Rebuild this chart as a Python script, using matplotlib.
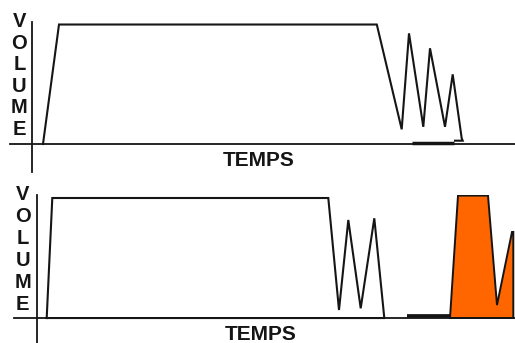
import matplotlib
matplotlib.use("Agg")
import matplotlib.pyplot as plt

plt.rcParams['font.family'] = ['Liberation Sans', 'DejaVu Sans']

# --- Top curve: volume vs. time (arbitrary units) ---
top_t = [10.7, 26.7, 344.5, 369.4, 376.7, 391.0, 397.7, 412.7, 420.4, 429.4, 430.4, 422.7]
top_v = [0, 100, 100, 12.3, 92.6, 14.4, 80.1, 14.4, 58.3, 4.8, 2.8, 2.8]
top_floor_t = [379.4, 422.0]
top_floor_v = [1.2, 1.2]

# --- Bottom curve ---
bot_t = [10.0, 15.6, 291.6, 302.3, 311.6, 324.0, 337.6, 347.6, 10.0]
bot_v = [0, 100, 100, 6.7, 81.7, 8.1, 83.1, 0, 0]
bot_floor_t = [370.0, 413.3]
bot_floor_v = [1.4, 1.4]
fill_t = [413.3, 421.3, 451.3, 460.3, 475.3, 476.6, 476.6]
fill_v = [0, 102, 102, 10.8, 71.7, 71.7, 0]

x_label = "TEMPS"
y_label = "VOLUME"

W, H = 515, 343
fig = plt.figure(figsize=(W / 100, H / 100), dpi=100)
ink = '#151515'


def make_axes(px_left, px_top, px_right, px_bottom, xlim, ylim):
    ax = fig.add_axes([px_left / W, 1 - px_bottom / H,
                       (px_right - px_left) / W, (px_bottom - px_top) / H])
    ax.set_xlim(*xlim)
    ax.set_ylim(*ylim)
    for side in ('top', 'right'):
        ax.spines[side].set_visible(False)
    for side in ('left', 'bottom'):
        ax.spines[side].set_position(('data', 0))
        ax.spines[side].set_color(ink)
        ax.spines[side].set_linewidth(1.3)
    ax.set_xticks([])
    ax.set_yticks([])
    ax.patch.set_alpha(0)
    return ax


# top panel
ax1 = make_axes(10, 22, 515, 172, (-22.3, 482.7), (-23.4, 102.1))
ax1.plot(top_t, top_v, color=ink, lw=1.5, solid_joinstyle='miter')
ax1.plot(top_floor_t, top_floor_v, color=ink, lw=2.5, solid_capstyle='butt')

# bottom panel
ax2 = make_axes(14, 195, 515, 343, (-22.7, 478.3), (-20.8, 102.5))
ax2.fill(fill_t, fill_v, facecolor='#ff6600', edgecolor=ink, lw=1.4, zorder=2)
ax2.plot(bot_t, bot_v, color=ink, lw=1.5, solid_joinstyle='miter', zorder=3)
ax2.plot(bot_floor_t, bot_floor_v, color=ink, lw=2.7, solid_capstyle='butt', zorder=3)


def stacked_label(x_px, y0_px, step_px):
    for i, ch in enumerate(y_label):
        fig.text(x_px / W, 1 - (y0_px + i * step_px) / H, ch,
                 ha='center', va='center', fontsize=14.5, fontweight='bold',
                 color=ink)


stacked_label(19.5, 21.5, 21.6)
stacked_label(22.7, 194.5, 22.0)

fig.text(259 / W, 1 - 160.5 / H, x_label, ha='center', va='center',
         fontsize=15, fontweight='bold', color=ink)
fig.text(261 / W, 1 - 334.5 / H, x_label, ha='center', va='center',
         fontsize=15, fontweight='bold', color=ink)

fig.savefig("out.png", dpi=100, facecolor='white')
